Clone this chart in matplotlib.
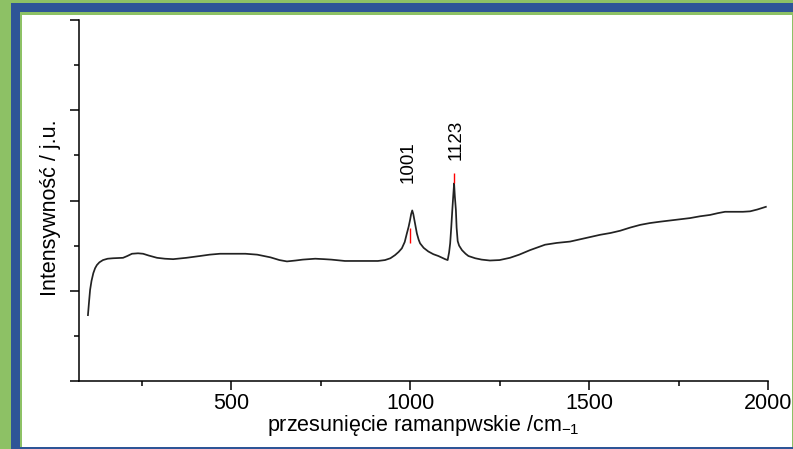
import matplotlib.pyplot as plt
from matplotlib.patches import Rectangle

plt.rcParams['font.family'] = ['Liberation Sans', 'DejaVu Sans']
plt.rcParams['mathtext.default'] = 'regular'

# Raman spectrum, read point by point
shift = [100, 103, 106, 110, 115, 120, 125, 132, 142, 155, 170, 198, 210,
         223, 240, 254, 270, 293, 315, 338, 375, 413, 440, 469, 506, 540,
         573, 610, 635, 656, 680, 700, 735, 760, 780, 818, 870, 910, 930,
         945, 958, 968, 977, 985, 991, 996, 1000, 1003, 1006, 1009, 1012,
         1019, 1024, 1028, 1038, 1051, 1065, 1079, 1098, 1105, 1109, 1112,
         1115, 1118, 1121, 1123, 1125, 1128, 1130, 1133, 1137, 1145, 1155,
         1163, 1182, 1200, 1223, 1250, 1279, 1305, 1335, 1377, 1410, 1447,
         1475, 1503, 1531, 1560, 1587, 1615, 1643, 1670, 1698, 1740, 1782,
         1810, 1838, 1860, 1880, 1908, 1930, 1950, 1970, 1994]
intensity = [1.46, 1.75, 2.02, 2.22, 2.39, 2.50, 2.57, 2.63, 2.68, 2.71,
             2.72, 2.73, 2.77, 2.82, 2.83, 2.82, 2.78, 2.73, 2.71, 2.70,
             2.73, 2.77, 2.80, 2.82, 2.82, 2.82, 2.80, 2.74, 2.68, 2.65,
             2.67, 2.69, 2.71, 2.70, 2.69, 2.66, 2.66, 2.66, 2.68, 2.72,
             2.79, 2.86, 2.94, 3.08, 3.27, 3.42, 3.57, 3.70, 3.78, 3.70,
             3.57, 3.27, 3.13, 3.05, 2.95, 2.87, 2.81, 2.77, 2.70, 2.68,
             2.85, 3.05, 3.40, 3.79, 4.15, 4.38, 4.10, 3.79, 3.40, 3.10,
             3.00, 2.90, 2.82, 2.77, 2.72, 2.69, 2.67, 2.68, 2.73, 2.80,
             2.90, 3.02, 3.06, 3.09, 3.14, 3.19, 3.24, 3.28, 3.33, 3.40,
             3.46, 3.50, 3.53, 3.57, 3.61, 3.65, 3.68, 3.72, 3.75, 3.75,
             3.75, 3.76, 3.80, 3.86]

peak_pos = [1001, 1123]
peak_labels = ['1001', '1123']
marker_lo = [3.05, 4.38]
marker_hi = [3.38, 4.60]
label_x = [994, 1130]
label_y = [4.39, 4.90]

W, H = 793, 449
fig = plt.figure(figsize=(W / 100, H / 100), dpi=100)
fig.patch.set_facecolor('#8dc165')

# slide frame: blue band, thin green line, white panel
bg = fig.add_axes([0, 0, 1, 1])
bg.set_xlim(0, W)
bg.set_ylim(H, 0)
bg.axis('off')
bg.add_patch(Rectangle((11, 3), W, H, color='#2e5597', lw=0))
bg.add_patch(Rectangle((20, 12), W, 435, color='#8dc165', lw=0))
bg.add_patch(Rectangle((22, 15), 770, 432, color='white', lw=0))

left, right, top, bottom = 79, 768, 20, 381
ax = fig.add_axes([left / W, (H - bottom) / H, (right - left) / W, (bottom - top) / H])
ax.patch.set_alpha(0)
ax.plot(shift, intensity, color='#222222', lw=1.25, solid_joinstyle='round')
ax.vlines(peak_pos, marker_lo, marker_hi, color='red', lw=1)
for x, y, s in zip(label_x, label_y, peak_labels):
    ax.text(x, y, s, rotation=90, ha='center', va='bottom', fontsize=13.5)

ax.set_xlim(75, 2000)
ax.set_ylim(0, 8)
ax.set_xticks([500, 1000, 1500, 2000])
ax.set_xticks([250, 750, 1250, 1750], minor=True)
ax.set_yticks([0, 2, 4, 6, 8])
ax.set_yticks([1, 3, 5, 7], minor=True)
ax.set_yticklabels([])
for s in ['top', 'right']:
    ax.spines[s].set_visible(False)
for s in ['left', 'bottom']:
    ax.spines[s].set_linewidth(1.1)
ax.tick_params(which='major', length=6.5, width=1.1, labelsize=15.5, pad=2)
ax.tick_params(which='minor', length=3.5, width=1.1)

ax.text(0.5, (bottom - 426) / (bottom - top), 'przesunięcie ramanpwskie /cm$_{-1}$',
        transform=ax.transAxes, ha='center', va='center', fontsize=15.5)
ax.text((51 - left) / (right - left), (bottom - 208) / (bottom - top), 'Intensywność / j.u.',
        transform=ax.transAxes, ha='center', va='center', rotation=90, fontsize=15.5)

fig.savefig('out.png', dpi=100)
